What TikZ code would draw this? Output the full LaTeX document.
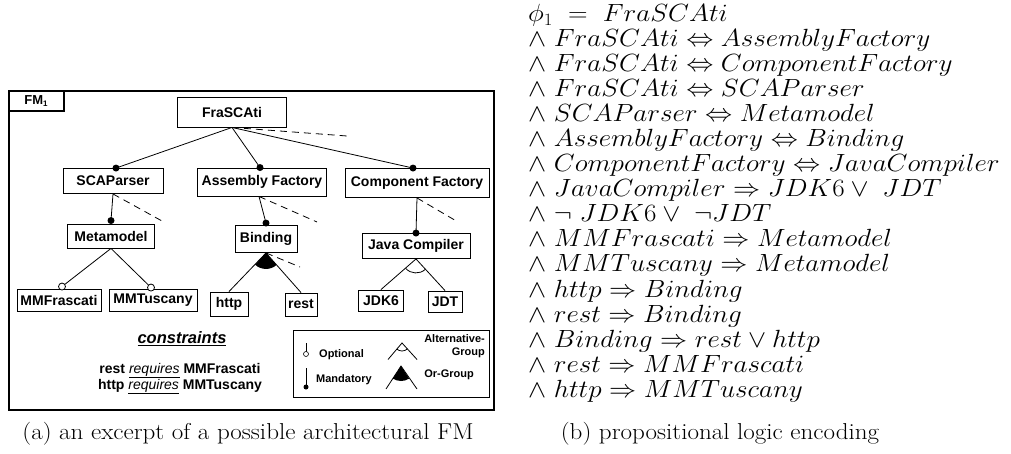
\documentclass[tikz,border=0pt]{standalone}
\usepackage{graphicx}
\usepackage{fontspec}
\newfontfamily\fmfont{Liberation Sans}
\tikzset{
  feat/.style={draw, line width=0.9pt, inner sep=2pt, font=\fmfont\bfseries\fontsize{14}{16}\selectfont},
  dotm/.style={circle, fill=black, inner sep=0pt, minimum size=7pt},
  doto/.style={circle, draw, fill=white, inner sep=0pt, minimum size=7pt, line width=0.8pt},
  link/.style={line width=0.8pt},
  more/.style={line width=0.8pt, dash pattern=on 7pt off 5pt},
  legtext/.style={inner sep=0pt, font=\fmfont\bfseries\fontsize{11}{13}\selectfont},
  enc/.style={anchor=base west, inner sep=0pt, font=\fontsize{23}{25}\selectfont},
  capt/.style={anchor=base, inner sep=0pt, font=\fontsize{23}{25}\selectfont},
}
\newcommand{\wide}[1]{\scalebox{1.09}[1]{#1}}
\begin{document}
\begin{tikzpicture}[x=1pt,y=-1pt]
\useasboundingbox (0,0) rectangle (1011,454);
% frame of the model
\draw[line width=2pt] (9,91) rectangle (494,410);
\draw[line width=2pt] (9,91) rectangle (64,111);
\node[inner sep=0pt, font=\fmfont\bfseries\fontsize{13}{15}\selectfont] (fmtag) at (36,101) {FM\raisebox{-2pt}{\fontsize{8}{8}\selectfont 1}};
% features
\node[feat, minimum width=109pt, minimum height=30pt] (frascati) at (232,112) {FraSCAti};
\node[feat, minimum width=100pt, minimum height=25pt] (scaparser) at (113,181) {SCAParser};
\node[feat, minimum width=129pt, minimum height=28pt] (assembly) at (262,182) {Assembly Factory};
\node[feat, minimum width=144pt, minimum height=29pt] (component) at (417,183) {Component Factory};
\node[feat, minimum width=87pt, minimum height=24pt] (metamodel) at (111,236) {Metamodel};
\node[feat, minimum width=62pt, minimum height=27pt] (binding) at (266,239) {Binding};
\node[feat, minimum width=108pt, minimum height=25pt] (javacomp) at (416,246) {Java Compiler};
\node[feat, minimum width=84pt, minimum height=22pt] (mmfrascati) at (59,300) {MMFrascati};
\node[feat, minimum width=88pt, minimum height=22pt] (mmtuscany) at (153,300) {MMTuscany};
\node[feat, minimum width=38pt, minimum height=24pt] (http) at (229,304) {http};
\node[feat, minimum width=32pt, minimum height=23pt] (rest) at (301,304.5) {rest};
\node[feat, minimum width=45pt, minimum height=21pt] (jdk6) at (381,300.5) {JDK6};
\node[feat, minimum width=34pt, minimum height=21pt] (jdt) at (445,301.5) {JDT};
% free ends of the dashed lines
\coordinate (frmore) at (347,136);
\coordinate (scamore) at (162,221);
\coordinate (asmmore) at (317,222);
\coordinate (cmpmore) at (458,222);
\coordinate (bndmore) at (300,267);
% mandatory
\draw[link] (frascati.south) -- ([xshift=3pt]scaparser.north) node[dotm] (d1) {};
\draw[link] (frascati.south) -- ([xshift=-2pt]assembly.north) node[dotm] (d2) {};
\draw[link] (frascati.south) -- ([xshift=-4pt]component.north) node[dotm] (d3) {};
\draw[link] (scaparser.south) -- ([yshift=3pt]metamodel.north) node[dotm] (d4) {};
\draw[link] ([xshift=-3pt]assembly.south) -- ([yshift=2pt]binding.north) node[dotm] (d5) {};
\draw[link] (component.south) -- (javacomp.north) node[dotm] (d6) {};
\draw[more] (frascati.south) -- (frmore);
\draw[more] (scaparser.south) -- (scamore);
\draw[more] ([xshift=-3pt]assembly.south) -- (asmmore);
\draw[more] (component.south) -- (cmpmore);
% optional
\draw[link] (metamodel.south) -- ([xshift=3pt,yshift=2pt]mmfrascati.north) node[doto] (o1) {};
\draw[link] (metamodel.south) -- ([xshift=-2pt,yshift=1pt]mmtuscany.north) node[doto] (o2) {};
% or-group
\fill (binding.south) -- ++(49:16) arc (49:133:16) -- cycle;
\draw[link] (binding.south) -- (http.north);
\draw[link] (binding.south) -- (rest.north);
\draw[more] (binding.south) -- (bndmore);
% alternative-group
\draw[link] (javacomp.south) -- (jdk6.north);
\draw[link] (javacomp.south) -- (jdt.north);
\draw[link] ([shift={(48:14)}]javacomp.south) arc (48:138:14);
% constraints
\node[inner sep=0pt, font=\fmfont\bfseries\itshape\fontsize{16.5}{18}\selectfont] (cons) at (182,339) {\underline{constraints}};
\node[inner sep=0pt, align=center, font=\fmfont\bfseries\fontsize{14}{13.3}\selectfont] (rules) at (180,378.5)
  {rest \textmd{\itshape\underline{requires}} MMFrascati\\http \textmd{\itshape\underline{requires}} MMTuscany};
% legend
\draw[line width=1pt] (293,330) rectangle (489,397);
\coordinate (optt) at (306,343);
\coordinate (mandt) at (306,368);
\draw[link] (optt) -- ++(0,11) node[doto, minimum size=5pt, line width=0.6pt] (optc) {};
\draw[link] (mandt) -- ++(0,19) node[dotm, minimum size=5pt] (mandc) {};
\node[legtext, anchor=west] (optlbl) at (319,355) {Optional};
\node[legtext, anchor=west] (mandlbl) at (316,380) {Mandatory};
\coordinate (alttop) at (402,343);
\draw[link] (388,359.5) -- (alttop) -- (417,359.5);
\draw[link] ([shift={(48:8)}]alttop) arc (48:132:8);
\coordinate (ortop) at (401,366);
\fill (ortop) -- ++(57:15) arc (57:123:15) -- cycle;
\draw[link] (386,389) -- (ortop) -- (417,389);
\node[legtext, align=right, anchor=east] (altlbl) at (485,346.5) {Alternative-\\Group};
\node[legtext] (orlbl) at (449,375) {Or-Group};
% encoding
\foreach \term [count=\i] in {
  {\phi_1\ =\ FraSCAti},
  {\wedge\ FraSCAti \Leftrightarrow AssemblyFactory},
  {\wedge\ FraSCAti \Leftrightarrow ComponentFactory},
  {\wedge\ FraSCAti \Leftrightarrow SCAParser},
  {\wedge\ SCAParser \Leftrightarrow Metamodel},
  {\wedge\ AssemblyFactory \Leftrightarrow Binding},
  {\wedge\ ComponentFactory \Leftrightarrow JavaCompiler},
  {\wedge\ JavaCompiler \Rightarrow JDK6 \vee\ JDT},
  {\wedge\ \neg\ JDK6 \vee\ \neg JDT},
  {\wedge\ MMFrascati \Rightarrow Metamodel},
  {\wedge\ MMTuscany \Rightarrow Metamodel},
  {\wedge\ http \Rightarrow Binding},
  {\wedge\ rest \Rightarrow Binding},
  {\wedge\ Binding \Rightarrow rest \vee http},
  {\wedge\ rest \Rightarrow MMFrascati},
  {\wedge\ http \Rightarrow MMTuscany}}
  \node[enc] (enc\i) at (528,{22+25*(\i-1)}) {\wide{$\term$}};
% captions
\node[capt] (capa) at (248,439) {\wide{(a) an excerpt of a possible architectural FM}};
\node[capt] (capb) at (720,439) {\wide{(b) propositional logic encoding}};
\end{tikzpicture}
\end{document}
